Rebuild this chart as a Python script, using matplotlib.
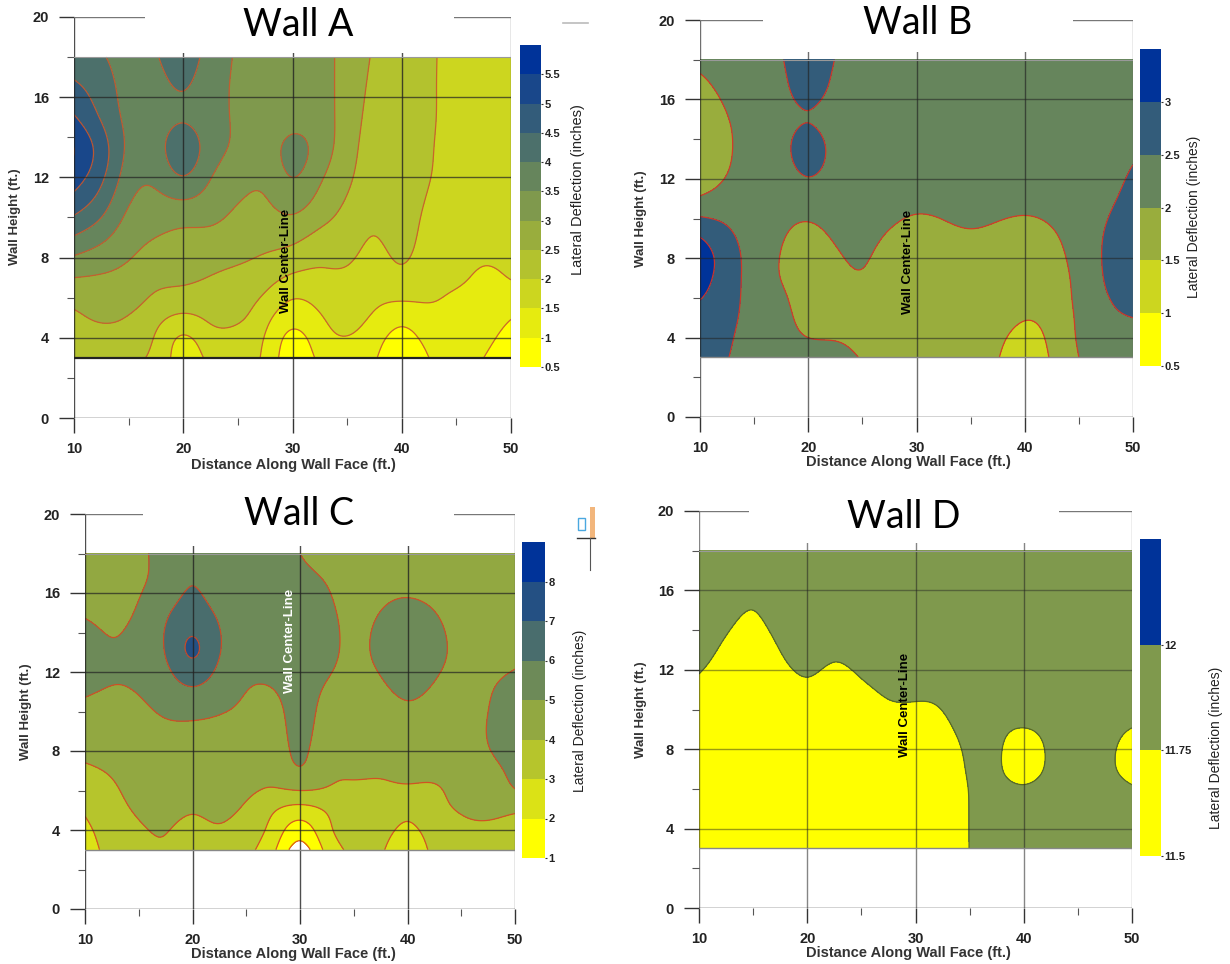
import numpy as np
import matplotlib
matplotlib.use("Agg")
import matplotlib.pyplot as plt
from matplotlib.colors import LinearSegmentedColormap
from matplotlib.patches import Rectangle
from matplotlib.lines import Line2D

plt.rcParams['font.family'] = ['Liberation Sans', 'DejaVu Sans']

W, H = 1230, 964

x_nodes = [10, 12.5, 15, 17.5, 20, 22.5, 25, 27.5, 30, 32.5, 35, 37.5, 40, 42.5, 45, 47.5, 50]
y_nodes = [3, 4, 5, 6, 7, 8, 10, 12, 13.5, 15, 16.5, 18]
y_nodes_c = [3, 4, 5, 6, 7, 8, 10, 12, 13, 15, 16.5, 18]

wall_a = [
    [2.2, 2.3, 2.42, 2.65, 3.0, 3.45, 4.45, 5.25, 5.5, 5.05, 4.6, 4.2],
    [2.2, 2.35, 2.55, 2.72, 2.95, 3.25, 4.0, 4.6, 4.75, 4.45, 4.25, 4.05],
    [2.1, 2.3, 2.47, 2.7, 2.85, 3.03, 3.4, 3.75, 3.9, 3.87, 3.82, 3.78],
    [1.85, 1.95, 2.15, 2.42, 2.65, 2.82, 3.2, 3.62, 3.82, 3.8, 3.82, 3.95],
    [1.3, 1.45, 1.9, 2.3, 2.6, 2.75, 3.15, 3.97, 4.25, 3.95, 4.03, 4.3],
    [1.6, 1.8, 2.08, 2.25, 2.48, 2.65, 3.1, 3.52, 3.75, 3.7, 3.68, 3.75],
    [1.65, 1.8, 2.08, 2.22, 2.38, 2.57, 2.9, 3.2, 3.4, 3.42, 3.43, 3.45],
    [1.4, 1.47, 1.65, 1.92, 2.2, 2.45, 2.85, 3.12, 3.27, 3.22, 3.17, 3.13],
    [0.7, 0.87, 1.2, 1.53, 1.92, 2.28, 2.95, 3.5, 3.62, 3.3, 3.15, 3.1],
    [1.1, 1.27, 1.45, 1.66, 1.9, 2.1, 2.65, 3.08, 3.28, 3.2, 3.13, 3.1],
    [1.25, 1.48, 1.65, 1.77, 1.9, 2.07, 2.35, 2.6, 2.72, 2.78, 2.82, 2.85],
    [1.05, 1.2, 1.42, 1.62, 1.75, 1.87, 2.1, 2.25, 2.3, 2.35, 2.4, 2.45],
    [0.6, 0.85, 1.15, 1.57, 1.87, 2.05, 2.22, 2.3, 2.32, 2.33, 2.32, 2.3],
    [1.0, 1.15, 1.33, 1.55, 1.67, 1.75, 1.88, 2.02, 2.05, 2.07, 2.07, 2.07],
    [1.2, 1.25, 1.33, 1.43, 1.58, 1.65, 1.75, 1.83, 1.86, 1.87, 1.87, 1.87],
    [1.0, 1.13, 1.25, 1.33, 1.43, 1.55, 1.7, 1.77, 1.8, 1.8, 1.8, 1.8],
    [0.65, 0.8, 1.02, 1.28, 1.52, 1.62, 1.7, 1.75, 1.75, 1.75, 1.75, 1.75],
]
wall_b = [
    [2.75, 2.8, 2.88, 3.02, 3.2, 3.28, 2.55, 1.72, 1.62, 1.68, 1.88, 2.1],
    [2.52, 2.58, 2.65, 2.72, 2.75, 2.75, 2.42, 2.03, 1.93, 1.98, 2.1, 2.2],
    [2.25, 2.27, 2.3, 2.3, 2.3, 2.3, 2.25, 2.2, 2.2, 2.2, 2.25, 2.3],
    [2.2, 2.15, 2.13, 2.08, 1.99, 1.98, 2.1, 2.2, 2.3, 2.3, 2.35, 2.45],
    [2.2, 2.0, 1.85, 1.75, 1.72, 1.75, 2.03, 2.47, 2.78, 2.48, 2.75, 3.0],
    [2.15, 1.97, 1.82, 1.77, 1.82, 1.92, 2.15, 2.25, 2.3, 2.25, 2.35, 2.48],
    [1.97, 1.88, 1.85, 1.85, 1.95, 2.05, 2.2, 2.25, 2.25, 2.25, 2.25, 2.25],
    [1.8, 1.75, 1.7, 1.7, 1.72, 1.8, 2.07, 2.2, 2.25, 2.25, 2.25, 2.25],
    [1.75, 1.72, 1.7, 1.68, 1.68, 1.73, 1.97, 2.2, 2.25, 2.25, 2.25, 2.25],
    [1.75, 1.72, 1.7, 1.68, 1.68, 1.75, 2.01, 2.2, 2.25, 2.25, 2.25, 2.25],
    [1.7, 1.68, 1.68, 1.68, 1.7, 1.78, 2.07, 2.2, 2.25, 2.25, 2.25, 2.25],
    [1.52, 1.58, 1.65, 1.68, 1.68, 1.75, 2.02, 2.2, 2.25, 2.25, 2.25, 2.25],
    [1.25, 1.38, 1.52, 1.62, 1.68, 1.75, 1.98, 2.2, 2.25, 2.25, 2.25, 2.25],
    [1.55, 1.6, 1.65, 1.7, 1.75, 1.82, 2.05, 2.2, 2.25, 2.25, 2.25, 2.25],
    [2.0, 2.05, 2.08, 2.12, 2.15, 2.2, 2.25, 2.25, 2.25, 2.25, 2.25, 2.25],
    [2.3, 2.33, 2.4, 2.47, 2.53, 2.55, 2.48, 2.3, 2.25, 2.25, 2.25, 2.25],
    [2.3, 2.38, 2.5, 2.65, 2.8, 2.85, 2.8, 2.6, 2.4, 2.3, 2.25, 2.25],
]
wall_c = [
    [2.6, 2.8, 3.1, 3.45, 3.85, 4.2, 4.8, 5.3, 5.4, 4.9, 4.4, 3.97],
    [3.3, 3.45, 3.65, 3.85, 4.1, 4.35, 4.75, 5.08, 5.08, 4.8, 4.6, 4.5],
    [3.75, 3.9, 4.1, 4.3, 4.45, 4.55, 4.85, 5.2, 5.3, 5.1, 4.9, 4.85],
    [3.92, 4.03, 4.2, 4.35, 4.5, 4.65, 5.1, 5.78, 6.05, 5.85, 5.4, 5.3],
    [3.55, 3.8, 4.05, 4.25, 4.4, 4.6, 5.2, 6.55, 7.1, 6.4, 5.97, 5.6],
    [3.5, 3.9, 4.15, 4.3, 4.5, 4.65, 5.05, 5.78, 6.05, 5.85, 5.5, 5.3],
    [3.2, 3.5, 3.85, 4.15, 4.35, 4.5, 4.85, 5.2, 5.45, 5.45, 5.4, 5.3],
    [2.2, 2.65, 3.1, 3.9, 4.3, 4.5, 4.75, 5.2, 5.35, 5.35, 5.3, 5.2],
    [0.6, 1.5, 2.6, 4.0, 4.9, 5.15, 5.3, 5.35, 5.4, 5.3, 5.15, 5.0],
    [2.3, 2.75, 3.1, 3.9, 4.2, 4.4, 4.7, 5.1, 5.3, 5.2, 4.98, 4.7],
    [3.15, 3.35, 3.6, 3.85, 4.12, 4.3, 4.55, 4.7, 4.75, 4.7, 4.55, 4.4],
    [3.1, 3.3, 3.6, 3.85, 4.1, 4.3, 4.65, 5.05, 5.25, 5.02, 4.7, 4.45],
    [2.5, 2.85, 3.25, 3.85, 4.2, 4.4, 4.85, 5.35, 5.45, 5.2, 4.8, 4.45],
    [3.2, 3.4, 3.7, 3.9, 4.2, 4.4, 4.7, 5.1, 5.25, 5.02, 4.7, 4.45],
    [3.45, 3.8, 4.05, 4.25, 4.35, 4.5, 4.65, 4.75, 4.75, 4.65, 4.55, 4.4],
    [3.5, 3.85, 4.15, 4.45, 4.7, 4.95, 5.0, 4.85, 4.7, 4.6, 4.5, 4.4],
    [3.45, 3.75, 4.1, 4.95, 5.25, 5.4, 5.4, 5.03, 4.85, 4.65, 4.5, 4.4],
]
wall_d = [
    [11.55, 11.55, 11.55, 11.55, 11.56, 11.58, 11.66, 11.76, 11.82, 11.87, 11.92, 11.95],
    [11.55, 11.55, 11.55, 11.55, 11.55, 11.55, 11.6, 11.68, 11.74, 11.82, 11.9, 11.95],
    [11.55, 11.55, 11.55, 11.55, 11.55, 11.55, 11.55, 11.6, 11.67, 11.75, 11.83, 11.92],
    [11.55, 11.55, 11.55, 11.55, 11.55, 11.55, 11.6, 11.7, 11.78, 11.86, 11.92, 11.97],
    [11.55, 11.55, 11.55, 11.55, 11.55, 11.58, 11.67, 11.77, 11.85, 11.9, 11.95, 11.98],
    [11.55, 11.55, 11.55, 11.55, 11.55, 11.56, 11.64, 11.73, 11.81, 11.88, 11.93, 11.97],
    [11.55, 11.55, 11.55, 11.55, 11.55, 11.58, 11.68, 11.77, 11.84, 11.89, 11.93, 11.97],
    [11.55, 11.55, 11.55, 11.55, 11.57, 11.62, 11.73, 11.8, 11.86, 11.9, 11.94, 11.97],
    [11.55, 11.55, 11.55, 11.55, 11.57, 11.62, 11.73, 11.82, 11.87, 11.91, 11.94, 11.97],
    [11.55, 11.55, 11.55, 11.55, 11.58, 11.63, 11.755, 11.84, 11.88, 11.91, 11.94, 11.97],
    [11.755, 11.755, 11.755, 11.76, 11.78, 11.8, 11.87, 11.9, 11.92, 11.94, 11.96, 11.97],
    [11.9, 11.88, 11.85, 11.82, 11.79, 11.79, 11.84, 11.9, 11.93, 11.95, 11.96, 11.97],
    [11.93, 11.9, 11.84, 11.78, 11.63, 11.62, 11.87, 11.93, 11.95, 11.96, 11.97, 11.97],
    [11.93, 11.92, 11.9, 11.86, 11.81, 11.8, 11.87, 11.93, 11.95, 11.96, 11.97, 11.97],
    [11.93, 11.93, 11.92, 11.9, 11.88, 11.87, 11.9, 11.93, 11.95, 11.96, 11.97, 11.97],
    [11.93, 11.92, 11.9, 11.86, 11.82, 11.82, 11.87, 11.93, 11.95, 11.96, 11.97, 11.97],
    [11.93, 11.9, 11.85, 11.78, 11.63, 11.62, 11.87, 11.93, 11.95, 11.96, 11.97, 11.97],
]

levels_a = [0.5, 1, 1.5, 2, 2.5, 3, 3.5, 4, 4.5, 5, 5.5, 6]
levels_b = [0.5, 1, 1.5, 2, 2.5, 3, 3.5]
levels_c = [1, 2, 3, 4, 5, 6, 7, 8, 9]
levels_d = [11.5, 11.75, 12, 12.25]

walls = [
    dict(name='Wall A', z=wall_a, ys=y_nodes, levels=levels_a, box=(74, 511, 17, 418), cbar=(520, 541, 45, 367),
         title=(298, 25), center=(286, 261), center_color='black', line='#cc5a2a', gap=(16.5, 44.8, 18.2),
         xlab=(293, 465), ylab=(15, 217), clab=(578, 190), clab_size=10.5, base_lw=1.6, grid_alpha=0.8),
    dict(name='Wall B', z=wall_b, ys=y_nodes, levels=levels_b, box=(700, 1133, 20, 417), cbar=(1140, 1161, 49, 366),
         title=(918, 23), center=(908, 262), center_color='black', line='#e0341f', gap=(15.8, 44.5, 18.4),
         xlab=(908, 462), ylab=(641, 219), clab=(1194, 217), clab_size=10, base_lw=1.0, grid_alpha=0.65),
    dict(name='Wall C', z=wall_c, ys=y_nodes_c, levels=levels_c, box=(85, 515, 514, 909), cbar=(522, 545, 542, 858),
         title=(299, 514), center=(290, 641), center_color='white', line='#d94a1f', gap=(15.4, 44.3, 18.4),
         xlab=(293, 954), ylab=(26, 712), clab=(580, 711), clab_size=10, base_lw=1.0, grid_alpha=0.8),
    dict(name='Wall D', z=wall_d, ys=y_nodes, levels=levels_d, box=(699, 1132, 511, 908), cbar=(1140, 1161, 539, 856),
         title=(904, 517), center=(905, 705), center_color='black', line='#55651f', gap=(14.6, 43.3, 18.4),
         xlab=(908, 953), ylab=(641, 710), clab=(1216, 748), clab_size=10, base_lw=1.0, grid_alpha=0.55),
]

cmap = LinearSegmentedColormap.from_list('wall', ['#ffff00', '#003399'])
fig = plt.figure(figsize=(W / 100, H / 100), dpi=100)


def px_axes(x0, x1, y_top, y_bottom):
    return fig.add_axes([x0 / W, 1 - y_bottom / H, (x1 - x0) / W, (y_bottom - y_top) / H])


def resample(t, v, tnew):
    """Natural cubic spline through the rows of v (n nodes x m), evaluated at tnew."""
    t = np.asarray(t, float)
    n = len(t)
    h = np.diff(t)
    A = np.zeros((n, n))
    rhs = np.zeros((n, v.shape[1]))
    A[0, 0] = A[-1, -1] = 1
    for i in range(1, n - 1):
        A[i, i - 1] = h[i - 1]
        A[i, i] = 2 * (h[i - 1] + h[i])
        A[i, i + 1] = h[i]
        rhs[i] = 6 * ((v[i + 1] - v[i]) / h[i] - (v[i] - v[i - 1]) / h[i - 1])
    M = np.linalg.solve(A, rhs)
    k = np.clip(np.searchsorted(t, tnew) - 1, 0, n - 2)
    hk = h[k][:, None]
    a = ((t[k + 1] - tnew) / h[k])[:, None]
    b = 1 - a
    return a * v[k] + b * v[k + 1] + ((a**3 - a) * M[k] + (b**3 - b) * M[k + 1]) * hk**2 / 6


for w in walls:
    x0, x1, yt, yb = w['box']
    ax = px_axes(x0, x1, yt, yb)
    ax.set_xlim(10, 50)
    ax.set_ylim(0, 20)
    z = np.array(w['z'])  # columns along x, rows along y
    xf = np.linspace(10, 50, 401)
    yf = np.linspace(3, 18, 301)
    ZF = resample(w['ys'], resample(x_nodes, z, xf).T, yf)
    n = len(w['levels']) - 1
    colors = [cmap(i / (n - 1)) for i in range(n)]
    cs = ax.contourf(xf, yf, ZF, levels=w['levels'], colors=colors, zorder=1)
    ax.contour(xf, yf, ZF, levels=w['levels'], colors=w['line'], linewidths=0.9, alpha=0.9, zorder=2)

    # frame and grid
    for s in ax.spines.values():
        s.set_visible(False)
    ax.set_xticks([10, 20, 30, 40, 50])
    ax.set_xticks([15, 25, 35, 45], minor=True)
    ax.set_yticks([0, 4, 8, 12, 16, 20])
    ax.set_yticks([2, 6, 10, 14, 18], minor=True)
    ax.tick_params(axis='both', which='major', length=11, width=1.0, color='#333333', labelsize=10.5)
    ax.tick_params(axis='x', which='major', pad=6.5)
    ax.tick_params(axis='y', which='major', pad=7)
    ax.tick_params(axis='both', which='minor', length=5, width=0.8, color='#555555')
    for lab in ax.get_xticklabels() + ax.get_yticklabels():
        lab.set_fontweight('bold')
        lab.set_color('#222222')
    for xv in [10, 20, 30, 40, 50]:
        ax.axvline(xv, color='#222222' if xv < 50 else '#666666', lw=1.0, alpha=w['grid_alpha'], zorder=3)
    for yv in [0, 4, 8, 12, 16]:
        ax.axhline(yv, color='#222222', lw=1.0, alpha=1.0 if yv == 0 else w['grid_alpha'] - 0.1, zorder=3)
    ax.axhline(20, color='#777777', lw=1.0, zorder=3)
    ax.axhline(18, color='#999999', lw=0.8, zorder=3)
    ax.axhline(3, color='#222222' if w['base_lw'] > 1 else '#888888', lw=w['base_lw'], zorder=3)

    # the white box behind the pasted-on title
    g0, g1, gy = w['gap']
    ax.add_patch(Rectangle((g0, gy), g1 - g0, 3, facecolor='white', edgecolor='none', zorder=4, clip_on=False))

    cx, cy = w['center']
    fig.text(cx / W, 1 - cy / H, 'Wall Center-Line', rotation=90, ha='center', va='center', fontsize=9.5,
             fontweight='bold', color=w['center_color'], zorder=10)
    tx, ty = w['title']
    fig.text(tx / W, 1 - ty / H, w['name'], ha='center', va='center', fontsize=27, family='Lato',
             color='black', zorder=10)
    lx, ly = w['xlab']
    fig.text(lx / W, 1 - ly / H, 'Distance Along Wall Face (ft.)', ha='center', va='center', fontsize=10.5,
             fontweight='bold', color='#333333')
    lx, ly = w['ylab']
    fig.text(lx / W, 1 - ly / H, 'Wall Height (ft.)', rotation=90, ha='center', va='center', fontsize=9.5,
             fontweight='bold', color='#333333')
    lx, ly = w['clab']
    fig.text(lx / W, 1 - ly / H, 'Lateral Deflection (inches)', rotation=90, ha='center', va='center',
             fontsize=w['clab_size'], color='#222222')

    # colour scale
    c0, c1, ct, cb = w['cbar']
    cax = px_axes(c0, c1, ct, cb)
    cbar = fig.colorbar(cs, cax=cax, ticks=w['levels'][:-1])
    cbar.outline.set_visible(False)
    cbar.ax.set_yticklabels([f'{v:g}' for v in w['levels'][:-1]], fontsize=8, fontweight='bold', color='#222222')
    cbar.ax.tick_params(length=1.5, width=0.8, pad=1, color='#333333')

# stray scraps at the edges of the pasted panels
fig.add_artist(Line2D([563 / W, 588 / W], [1 - 23 / H, 1 - 23 / H], color='#bbbbbb', lw=1.2))
fig.add_artist(Rectangle((590 / W, 1 - 538 / H), 5 / W, 31 / H, transform=fig.transFigure, facecolor='#f2b67c', edgecolor='none'))
fig.add_artist(Rectangle((578 / W, 1 - 530 / H), 7 / W, 12 / H, transform=fig.transFigure, facecolor='white', edgecolor='#4aa8e0', lw=1))
fig.add_artist(Line2D([577 / W, 595 / W], [1 - 538 / H, 1 - 538 / H], color='#333333', lw=1))
fig.add_artist(Line2D([590 / W, 590 / W], [1 - 538 / H, 1 - 570 / H], color='#555555', lw=0.8))

fig.savefig('out.png', dpi=100, facecolor='white')
